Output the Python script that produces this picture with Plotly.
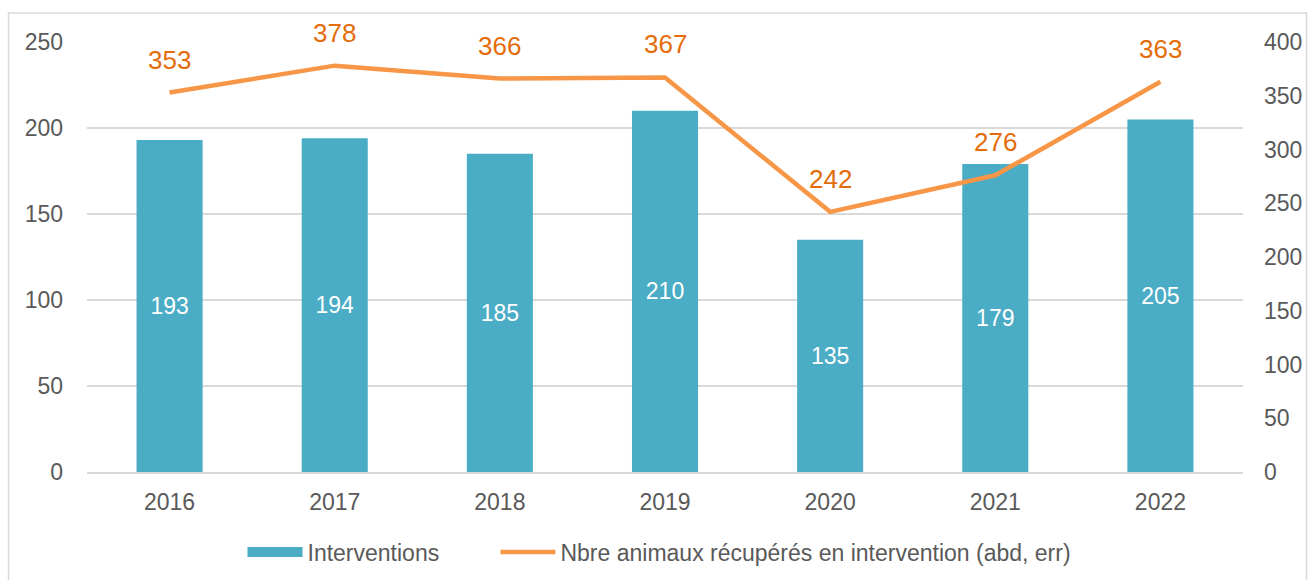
import plotly.graph_objects as go

years = ["2016", "2017", "2018", "2019", "2020", "2021", "2022"]
interventions = [193, 194, 185, 210, 135, 179, 205]
animaux = [353, 378, 366, 367, 242, 276, 363]
left_ticks = [0, 50, 100, 150, 200, 250]
right_ticks = [0, 50, 100, 150, 200, 250, 300, 350, 400]

BAR = "#4BACC6"
LINE = "#F79646"
LABEL = "#E46C0A"
TICK = "#595959"
GRID = "#D9D9D9"
FONT = "Liberation Sans, Arial, sans-serif"

fig = go.Figure()
fig.add_trace(go.Bar(
    x=years, y=interventions, name="Interventions", showlegend=False,
    marker=dict(color=BAR, line=dict(width=0)),
    text=[str(v) for v in interventions], textposition="inside",
    insidetextanchor="middle", textfont=dict(color="white", size=23, family=FONT),
    width=0.4, yaxis="y",
))
# legend-only entry reproducing the wide rectangular swatch of the bar series
fig.add_trace(go.Scatter(
    x=[None], y=[None], name="Interventions", mode="lines",
    line=dict(color=BAR, width=12), yaxis="y", showlegend=True, legend="legend",
))
fig.add_trace(go.Scatter(
    x=years, y=animaux, name="Nbre animaux récupérés en intervention (abd, err)",
    mode="lines", line=dict(color=LINE, width=4.5), yaxis="y2", legend="legend2",
))
for i, v in enumerate(animaux):
    fig.add_annotation(x=i, y=v, xref="x", yref="y2", text=str(v), showarrow=False,
                       yanchor="middle", yshift=33,
                       font=dict(color=LABEL, size=26, family=FONT))

legend_common = dict(orientation="h", xanchor="left", y=-0.186, yanchor="middle",
                     font=dict(size=23, color=TICK), itemwidth=55,
                     bgcolor="rgba(0,0,0,0)")

fig.update_layout(
    width=1308, height=580,
    margin=dict(l=86.5, r=65.4, t=42, b=108, autoexpand=False),
    paper_bgcolor="white", plot_bgcolor="white",
    font=dict(family=FONT, color=TICK, size=23),
    showlegend=True,
    legend=dict(x=(242 - 86.5) / 1156.1, **legend_common),
    legend2=dict(x=(495 - 86.5) / 1156.1, **legend_common),
    xaxis=dict(type="category", range=[-0.5, len(years) - 0.5], showgrid=False,
               showline=True, linecolor=GRID, linewidth=2, automargin=False,
               tickfont=dict(size=23, color=TICK), ticks="", ticklabelstandoff=8),
    yaxis=dict(range=[0, 250], tickvals=left_ticks, showgrid=True, gridcolor=GRID,
               gridwidth=1.5, zeroline=False, showline=False, ticks="", automargin=False,
               tickfont=dict(size=23, color=TICK), ticklabelstandoff=23),
    yaxis2=dict(range=[0, 400], tickvals=right_ticks, overlaying="y", side="right",
                showgrid=False, zeroline=False, showline=False, ticks="", automargin=False,
                tickfont=dict(size=23, color=TICK), ticklabelstandoff=20),
    shapes=[dict(type="rect", xref="paper", yref="paper",
                 x0=-78.5/1156.1, x1=1.055, y0=-0.3, y1=(472-13)/430,
                 line=dict(color=GRID, width=1.5), fillcolor="rgba(0,0,0,0)", layer="below")],
)

fig.write_html("out.html", config={"displayModeBar": False},
               post_script="document.body.style.margin='0';document.body.style.overflow='hidden';")
